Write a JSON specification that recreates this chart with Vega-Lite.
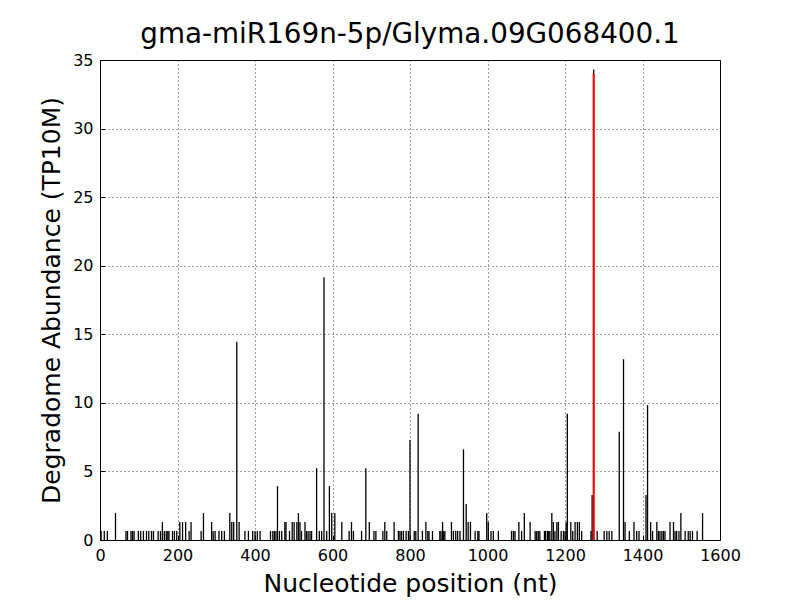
{
  "$schema": "https://vega.github.io/schema/vega-lite/v6.json",
  "width": 620,
  "height": 480,
  "autosize": "none",
  "padding": {"left": 100, "top": 60, "right": 80, "bottom": 60},
  "background": "white",
  "title": {"text": "gma-miR169n-5p/Glyma.09G068400.1", "font": "DejaVu Sans", "fontSize": 27.8, "fontWeight": "normal", "color": "black", "anchor": "middle", "offset": 3},
  "config": {
    "view": {"stroke": "black", "strokeWidth": 1},
    "axis": {"grid": true, "gridColor": "black", "gridDash": [1, 3], "gridWidth": 1, "gridOpacity": 0.75, "domain": false, "tickColor": "black", "tickSize": -5, "tickWidth": 1, "labelFlush": false, "labelOverlap": false, "labelFont": "DejaVu Sans", "labelFontSize": 16, "labelColor": "black", "titleFont": "DejaVu Sans", "titleFontSize": 25, "titleFontWeight": "normal", "titleColor": "black"}
  },
  "data": {"values": [
    {"pos": 3, "val": 0.66, "kind": "read"}, {"pos": 11, "val": 0.66, "kind": "read"}, {"pos": 19, "val": 0.66, "kind": "read"}, {"pos": 40, "val": 1.97, "kind": "read"},
    {"pos": 67, "val": 0.66, "kind": "read"}, {"pos": 71, "val": 0.66, "kind": "read"}, {"pos": 80, "val": 0.66, "kind": "read"}, {"pos": 84, "val": 0.66, "kind": "read"}, {"pos": 88, "val": 0.66, "kind": "read"},
    {"pos": 99, "val": 0.66, "kind": "read"}, {"pos": 105, "val": 0.66, "kind": "read"}, {"pos": 112, "val": 0.66, "kind": "read"}, {"pos": 120, "val": 0.66, "kind": "read"}, {"pos": 126, "val": 0.66, "kind": "read"},
    {"pos": 133, "val": 0.66, "kind": "read"}, {"pos": 138, "val": 0.66, "kind": "read"}, {"pos": 150, "val": 0.66, "kind": "read"}, {"pos": 156, "val": 0.66, "kind": "read"}, {"pos": 161, "val": 1.31, "kind": "read"},
    {"pos": 166, "val": 0.66, "kind": "read"}, {"pos": 171, "val": 0.66, "kind": "read"}, {"pos": 175, "val": 0.66, "kind": "read"}, {"pos": 178, "val": 0.66, "kind": "read"}, {"pos": 187, "val": 0.66, "kind": "read"},
    {"pos": 192, "val": 0.66, "kind": "read"}, {"pos": 198, "val": 0.66, "kind": "read"}, {"pos": 206, "val": 1.31, "kind": "read"}, {"pos": 213, "val": 1.31, "kind": "read"}, {"pos": 221, "val": 1.31, "kind": "read"},
    {"pos": 230, "val": 0.66, "kind": "read"}, {"pos": 235, "val": 1.31, "kind": "read"}, {"pos": 261, "val": 0.66, "kind": "read"}, {"pos": 267, "val": 1.97, "kind": "read"}, {"pos": 288, "val": 1.31, "kind": "read"},
    {"pos": 292, "val": 0.66, "kind": "read"}, {"pos": 297, "val": 0.66, "kind": "read"}, {"pos": 307, "val": 0.66, "kind": "read"}, {"pos": 314, "val": 0.66, "kind": "read"}, {"pos": 321, "val": 0.66, "kind": "read"},
    {"pos": 335, "val": 1.97, "kind": "read"}, {"pos": 340, "val": 1.31, "kind": "read"}, {"pos": 345, "val": 1.31, "kind": "read"}, {"pos": 353, "val": 14.46, "kind": "read"}, {"pos": 359, "val": 1.31, "kind": "read"},
    {"pos": 374, "val": 0.66, "kind": "read"}, {"pos": 383, "val": 0.66, "kind": "read"}, {"pos": 394, "val": 0.66, "kind": "read"}, {"pos": 400, "val": 0.66, "kind": "read"}, {"pos": 406, "val": 0.66, "kind": "read"},
    {"pos": 413, "val": 0.66, "kind": "read"}, {"pos": 440, "val": 0.66, "kind": "read"}, {"pos": 446, "val": 0.66, "kind": "read"}, {"pos": 450, "val": 0.66, "kind": "read"}, {"pos": 454, "val": 0.66, "kind": "read"},
    {"pos": 458, "val": 3.93, "kind": "read"}, {"pos": 463, "val": 0.66, "kind": "read"}, {"pos": 469, "val": 0.66, "kind": "read"}, {"pos": 477, "val": 1.31, "kind": "read"}, {"pos": 480, "val": 1.31, "kind": "read"},
    {"pos": 489, "val": 0.66, "kind": "read"}, {"pos": 496, "val": 1.31, "kind": "read"}, {"pos": 501, "val": 1.31, "kind": "read"}, {"pos": 508, "val": 1.31, "kind": "read"}, {"pos": 512, "val": 1.97, "kind": "read"},
    {"pos": 516, "val": 1.31, "kind": "read"}, {"pos": 520, "val": 0.66, "kind": "read"}, {"pos": 529, "val": 1.31, "kind": "read"}, {"pos": 533, "val": 0.66, "kind": "read"}, {"pos": 537, "val": 0.66, "kind": "read"},
    {"pos": 542, "val": 0.66, "kind": "read"}, {"pos": 546, "val": 0.66, "kind": "read"}, {"pos": 559, "val": 5.24, "kind": "read"}, {"pos": 566, "val": 0.66, "kind": "read"}, {"pos": 572, "val": 0.66, "kind": "read"},
    {"pos": 578, "val": 19.15, "kind": "read"}, {"pos": 585, "val": 0.66, "kind": "read"}, {"pos": 592, "val": 3.93, "kind": "read"}, {"pos": 598, "val": 1.97, "kind": "read"}, {"pos": 606, "val": 1.97, "kind": "read"},
    {"pos": 624, "val": 1.31, "kind": "read"}, {"pos": 643, "val": 0.66, "kind": "read"}, {"pos": 649, "val": 1.31, "kind": "read"}, {"pos": 654, "val": 0.66, "kind": "read"}, {"pos": 675, "val": 0.66, "kind": "read"},
    {"pos": 686, "val": 5.24, "kind": "read"}, {"pos": 695, "val": 1.31, "kind": "read"}, {"pos": 707, "val": 0.66, "kind": "read"}, {"pos": 712, "val": 0.66, "kind": "read"}, {"pos": 730, "val": 0.66, "kind": "read"},
    {"pos": 735, "val": 1.31, "kind": "read"}, {"pos": 740, "val": 0.66, "kind": "read"}, {"pos": 759, "val": 1.31, "kind": "read"}, {"pos": 770, "val": 0.66, "kind": "read"}, {"pos": 774, "val": 0.66, "kind": "read"},
    {"pos": 778, "val": 0.66, "kind": "read"}, {"pos": 783, "val": 0.66, "kind": "read"}, {"pos": 790, "val": 0.66, "kind": "read"}, {"pos": 796, "val": 0.66, "kind": "read"}, {"pos": 800, "val": 7.29, "kind": "read"},
    {"pos": 811, "val": 0.66, "kind": "read"}, {"pos": 815, "val": 0.66, "kind": "read"}, {"pos": 821, "val": 9.21, "kind": "read"}, {"pos": 832, "val": 0.66, "kind": "read"}, {"pos": 841, "val": 1.31, "kind": "read"},
    {"pos": 846, "val": 0.66, "kind": "read"}, {"pos": 849, "val": 0.66, "kind": "read"}, {"pos": 858, "val": 0.66, "kind": "read"}, {"pos": 877, "val": 0.66, "kind": "read"}, {"pos": 880, "val": 0.66, "kind": "read"},
    {"pos": 884, "val": 1.31, "kind": "read"}, {"pos": 887, "val": 0.66, "kind": "read"}, {"pos": 890, "val": 0.66, "kind": "read"}, {"pos": 907, "val": 1.31, "kind": "read"}, {"pos": 912, "val": 0.66, "kind": "read"},
    {"pos": 918, "val": 0.66, "kind": "read"}, {"pos": 923, "val": 0.66, "kind": "read"}, {"pos": 929, "val": 0.66, "kind": "read"}, {"pos": 938, "val": 6.61, "kind": "read"}, {"pos": 945, "val": 2.62, "kind": "read"},
    {"pos": 950, "val": 1.31, "kind": "read"}, {"pos": 956, "val": 1.31, "kind": "read"}, {"pos": 968, "val": 0.66, "kind": "read"}, {"pos": 975, "val": 0.66, "kind": "read"}, {"pos": 978, "val": 0.66, "kind": "read"},
    {"pos": 998, "val": 1.97, "kind": "read"}, {"pos": 1002, "val": 1.31, "kind": "read"}, {"pos": 1009, "val": 0.66, "kind": "read"}, {"pos": 1015, "val": 0.66, "kind": "read"}, {"pos": 1028, "val": 0.66, "kind": "read"},
    {"pos": 1062, "val": 0.66, "kind": "read"}, {"pos": 1067, "val": 0.66, "kind": "read"}, {"pos": 1071, "val": 0.66, "kind": "read"}, {"pos": 1081, "val": 1.31, "kind": "read"}, {"pos": 1088, "val": 0.66, "kind": "read"},
    {"pos": 1095, "val": 1.97, "kind": "read"}, {"pos": 1110, "val": 1.31, "kind": "read"}, {"pos": 1123, "val": 0.66, "kind": "read"}, {"pos": 1127, "val": 0.66, "kind": "read"}, {"pos": 1131, "val": 0.66, "kind": "read"},
    {"pos": 1135, "val": 0.66, "kind": "read"}, {"pos": 1147, "val": 0.66, "kind": "read"}, {"pos": 1150, "val": 0.66, "kind": "read"}, {"pos": 1155, "val": 0.66, "kind": "read"}, {"pos": 1158, "val": 0.66, "kind": "read"},
    {"pos": 1161, "val": 0.66, "kind": "read"}, {"pos": 1166, "val": 1.97, "kind": "read"}, {"pos": 1170, "val": 1.31, "kind": "read"}, {"pos": 1174, "val": 0.66, "kind": "read"}, {"pos": 1179, "val": 1.31, "kind": "read"},
    {"pos": 1183, "val": 1.31, "kind": "read"}, {"pos": 1190, "val": 0.66, "kind": "read"}, {"pos": 1196, "val": 0.66, "kind": "read"}, {"pos": 1200, "val": 0.66, "kind": "read"}, {"pos": 1203, "val": 1.31, "kind": "read"},
    {"pos": 1206, "val": 9.21, "kind": "read"}, {"pos": 1215, "val": 1.31, "kind": "read"}, {"pos": 1220, "val": 0.66, "kind": "read"}, {"pos": 1226, "val": 1.31, "kind": "read"}, {"pos": 1232, "val": 1.31, "kind": "read"},
    {"pos": 1237, "val": 1.31, "kind": "read"}, {"pos": 1243, "val": 0.66, "kind": "read"}, {"pos": 1267, "val": 0.66, "kind": "read"}, {"pos": 1270, "val": 3.28, "kind": "read"}, {"pos": 1274, "val": 34.3, "kind": "read"},
    {"pos": 1283, "val": 0.66, "kind": "read"}, {"pos": 1301, "val": 0.66, "kind": "read"}, {"pos": 1308, "val": 0.66, "kind": "read"}, {"pos": 1314, "val": 0.66, "kind": "read"}, {"pos": 1321, "val": 0.66, "kind": "read"},
    {"pos": 1340, "val": 7.9, "kind": "read"}, {"pos": 1351, "val": 13.18, "kind": "read"}, {"pos": 1355, "val": 1.31, "kind": "read"}, {"pos": 1366, "val": 0.66, "kind": "read"}, {"pos": 1378, "val": 1.31, "kind": "read"},
    {"pos": 1385, "val": 0.66, "kind": "read"}, {"pos": 1391, "val": 0.66, "kind": "read"}, {"pos": 1409, "val": 3.28, "kind": "read"}, {"pos": 1413, "val": 9.84, "kind": "read"}, {"pos": 1421, "val": 1.31, "kind": "read"},
    {"pos": 1426, "val": 0.66, "kind": "read"}, {"pos": 1437, "val": 1.31, "kind": "read"}, {"pos": 1441, "val": 0.66, "kind": "read"}, {"pos": 1445, "val": 0.66, "kind": "read"}, {"pos": 1450, "val": 0.66, "kind": "read"},
    {"pos": 1454, "val": 0.66, "kind": "read"}, {"pos": 1458, "val": 0.66, "kind": "read"}, {"pos": 1471, "val": 1.31, "kind": "read"}, {"pos": 1480, "val": 1.31, "kind": "read"}, {"pos": 1484, "val": 0.66, "kind": "read"},
    {"pos": 1488, "val": 0.66, "kind": "read"}, {"pos": 1494, "val": 0.66, "kind": "read"}, {"pos": 1499, "val": 1.97, "kind": "read"}, {"pos": 1510, "val": 0.66, "kind": "read"}, {"pos": 1518, "val": 0.66, "kind": "read"},
    {"pos": 1523, "val": 0.66, "kind": "read"}, {"pos": 1529, "val": 0.66, "kind": "read"}, {"pos": 1541, "val": 0.66, "kind": "read"}, {"pos": 1555, "val": 1.97, "kind": "read"},
    {"pos": 1274, "val": 34.0, "kind": "target"}
  ]},
  "layer": [
    {
      "transform": [{"filter": "datum.kind === 'read'"}],
      "mark": {"type": "rule", "color": "black", "strokeWidth": 1.3},
      "encoding": {
        "x": {"field": "pos", "type": "quantitative", "scale": {"domain": [0, 1600], "nice": false, "zero": false}, "axis": {"title": "Nucleotide position (nt)", "values": [0, 200, 400, 600, 800, 1000, 1200, 1400, 1600], "format": "d", "labelPadding": 12, "titlePadding": 8}},
        "y": {"field": "val", "type": "quantitative", "scale": {"domain": [0, 35], "nice": false}, "axis": {"title": "Degradome Abundance (TP10M)", "values": [0, 5, 10, 15, 20, 25, 30, 35], "format": "d", "labelPadding": 12, "titlePadding": 8}},
        "y2": {"datum": 0}
      }
    },
    {
      "transform": [{"filter": "datum.kind === 'target'"}],
      "mark": {"type": "rule", "color": "red", "strokeWidth": 2},
      "encoding": {
        "x": {"field": "pos", "type": "quantitative"},
        "y": {"field": "val", "type": "quantitative"},
        "y2": {"datum": 0}
      }
    }
  ]
}
